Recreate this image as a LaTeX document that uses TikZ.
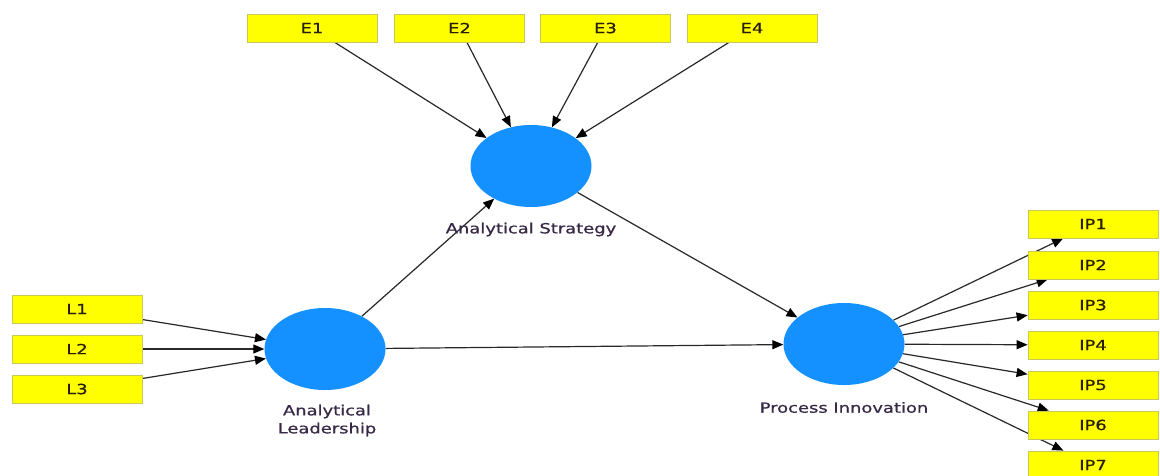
\documentclass[tikz,border=0pt]{standalone}
\usepackage{fontspec}
\setmainfont{DejaVu Sans}
\newfontfamily\heavyfont[FakeBold=0.6]{DejaVu Sans}
\usetikzlibrary{arrows.meta,shapes.geometric,backgrounds}
\definecolor{boxyellow}{RGB}{255,255,0}
\definecolor{boxedge}{RGB}{200,200,90}
\definecolor{lvblue}{RGB}{20,145,255}
\definecolor{edgegray}{RGB}{40,40,40}
\definecolor{labtext}{RGB}{55,40,70}
\definecolor{boxtext}{RGB}{40,30,5}
\newcommand\wx[1]{\scalebox{1.28}[1]{#1}}
\begin{document}
\begin{tikzpicture}[x=1pt,y=-1pt,
  indic/.style={rectangle,fill=boxyellow,draw=boxedge,line width=0.8pt,minimum width=130pt,minimum height=28pt,inner sep=0pt,font=\heavyfont\fontsize{14}{16}\selectfont,text=boxtext},
  latent/.style={ellipse,fill=lvblue,minimum width=121pt,minimum height=82pt,inner sep=0pt},
  lab/.style={font=\heavyfont\fontsize{14}{18}\selectfont,text=labtext,align=center,inner sep=0pt},
  conn/.style={draw=edgegray,line width=1.2pt,-{Triangle[length=11pt,width=9pt,color=black]}}]
\useasboundingbox (0,0) rectangle (1160,475);
% latent variables
\node[latent] (AS) at (531,166) {};
\node[latent] (AL) at (325,349) {};
\node[latent] (PI) at (844,344) {};
% labels
\node[lab] (ASl) at (531,229.5) {\wx{Analytical Strategy}};
\node[lab] (ALl) at (327,420.5) {\wx{Analytical}\\\wx{Leadership}};
\node[lab] (PIl) at (844,407.5) {\wx{Process Innovation}};
% indicators
\node[indic] (E1) at (312,28) {\wx{E1}};
\node[indic] (E2) at (459.5,28) {\wx{E2}};
\node[indic] (E3) at (605.5,28) {\wx{E3}};
\node[indic] (E4) at (752,28) {\wx{E4}};
\node[indic] (L1) at (77,309) {\wx{L1}};
\node[indic] (L2) at (77,349) {\wx{L2}};
\node[indic] (L3) at (77,389) {\wx{L3}};
\node[indic] (IP1) at (1093,224) {\wx{IP1}};
\node[indic] (IP2) at (1093,265) {\wx{IP2}};
\node[indic] (IP3) at (1093,305) {\wx{IP3}};
\node[indic] (IP4) at (1093,345) {\wx{IP4}};
\node[indic] (IP5) at (1093,385) {\wx{IP5}};
\node[indic] (IP6) at (1093,425) {\wx{IP6}};
\node[indic] (IP7) at (1093,465) {\wx{IP7}};
\begin{pgfonlayer}{background}
\fill[white] (0,0) rectangle (1160,475);
\foreach \e in {E1,E2,E3,E4} \draw[conn] (\e) -- (AS);
\foreach \l in {L1,L2,L3} \draw[conn] (\l) -- (AL);
\draw[conn] (AL) -- (AS);
\draw[conn] (AL) -- (PI);
\draw[conn] (AS) -- (PI);
\foreach \i in {1,...,7} \draw[conn] (PI) -- (IP\i);
\end{pgfonlayer}
\end{tikzpicture}
\end{document}
